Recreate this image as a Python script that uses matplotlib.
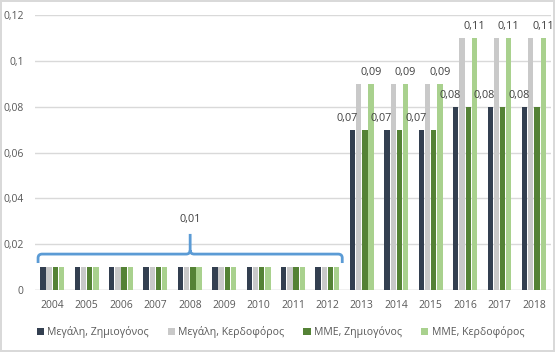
import numpy as np
import matplotlib
matplotlib.use("Agg")
import matplotlib.pyplot as plt
from matplotlib.path import Path
from matplotlib.patches import PathPatch

plt.rcParams["font.family"] = ["Open Sans", "DejaVu Sans"]

years = [str(y) for y in range(2004, 2019)]
large_loss = [0.01] * 9 + [0.07, 0.07, 0.07, 0.08, 0.08, 0.08]
large_profit = [0.01] * 9 + [0.09, 0.09, 0.09, 0.11, 0.11, 0.11]
sme_loss = [0.01] * 9 + [0.07, 0.07, 0.07, 0.08, 0.08, 0.08]
sme_profit = [0.01] * 9 + [0.09, 0.09, 0.09, 0.11, 0.11, 0.11]
series_names = ["Μεγάλη, Ζημιογόνος", "Μεγάλη, Κερδοφόρος", "ΜΜΕ, Ζημιογόνος", "ΜΜΕ, Κερδοφόρος"]
colors = ["#333F50", "#C9C9C9", "#548235", "#A9D18E"]
bracket_label = "0,01"

txt = "#595959"
fig = plt.figure(figsize=(5.55, 3.52), dpi=100)
fig.patch.set_edgecolor("#D9D9D9")
fig.patch.set_linewidth(1.5)
ax = fig.add_axes([0.063, 0.176, 0.93, 0.781])

x = np.arange(len(years))
offsets = [-0.27, -0.09, 0.09, 0.27]
width = 0.155
all_series = [large_loss, large_profit, sme_loss, sme_profit]
for vals, off, c, name in zip(all_series, offsets, colors, series_names):
    ax.bar(x + off, vals, width, color=c, label=name, zorder=2)

def fmt(v):
    return f"{v:.2f}".replace(".", ",")

# data labels for 2013 onwards
for i in range(9, len(years)):
    ax.annotate(fmt(large_loss[i]), (x[i] + offsets[0], large_loss[i]),
                xytext=(-4, 4), textcoords="offset points",
                ha="center", va="bottom", fontsize=7.8, color="#404040")
    ax.annotate(fmt(sme_profit[i]), (x[i] + offsets[3], sme_profit[i]),
                xytext=(0, 4), textcoords="offset points",
                ha="center", va="bottom", fontsize=7.8, color="#404040")

# curly bracket over 2004-2012
x0, x1 = x[0] - 0.41, x[8] + 0.43
mid = (x0 + x1) / 2
yb, ye, yt = 0.0157, 0.0118, 0.0245
rx, ry = 0.12, 0.0017
verts = [(x0, ye), (x0, yb - ry), (x0, yb), (x0 + rx, yb), (mid - rx, yb),
         (mid, yb), (mid, yb + ry), (mid, yt),
         (mid, yb + ry), (mid, yb), (mid + rx, yb), (x1 - rx, yb),
         (x1, yb), (x1, yb - ry), (x1, ye)]
codes = [Path.MOVETO, Path.LINETO, Path.CURVE3, Path.CURVE3, Path.LINETO,
         Path.CURVE3, Path.CURVE3, Path.LINETO,
         Path.MOVETO, Path.CURVE3, Path.CURVE3, Path.LINETO,
         Path.CURVE3, Path.CURVE3, Path.LINETO]
ax.add_patch(PathPatch(Path(verts, codes), fill=False, edgecolor="#5B9BD5", lw=2, zorder=3))
ax.text(mid, 0.0285, bracket_label, ha="center", va="bottom", fontsize=7.8, color="#404040")

ax.set_xlim(-0.5, len(years) - 0.5)
ax.set_ylim(0, 0.12)
yt_vals = [0, 0.02, 0.04, 0.06, 0.08, 0.1, 0.12]
ax.set_yticks(yt_vals)
ax.set_yticklabels(["0", "0,02", "0,04", "0,06", "0,08", "0,1", "0,12"])
ax.set_xticks(x)
ax.set_xticklabels(years)
ax.tick_params(axis="both", length=0, labelsize=7.5, colors=txt)
ax.tick_params(axis="x", pad=7)
ax.tick_params(axis="y", pad=8)
ax.grid(axis="y", color="#D9D9D9", lw=1, zorder=0)
for s in ax.spines.values():
    s.set_visible(False)
ax.axhline(0, color="#D9D9D9", lw=1, zorder=1)

fig.legend(loc="center", bbox_to_anchor=(0.505, 0.057), ncol=4, frameon=False,
           fontsize=7.6, labelcolor=txt, handlelength=0.7, handleheight=0.7,
           handletextpad=0.3, columnspacing=1.8)

fig.savefig("out.png", dpi=100)
